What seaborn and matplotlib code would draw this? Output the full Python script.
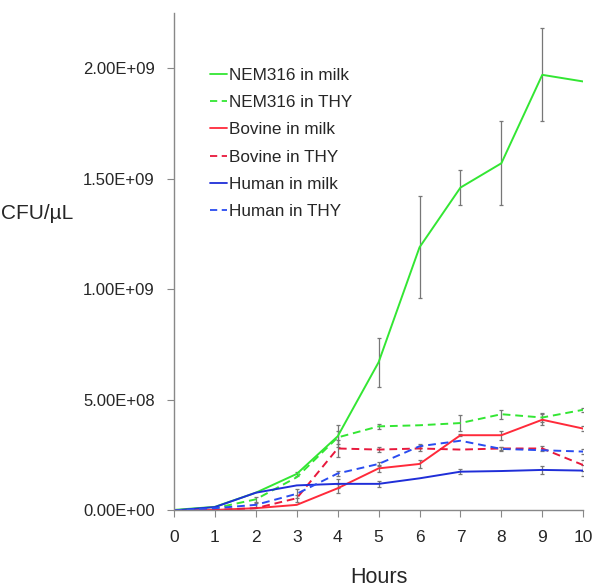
import numpy as np
import pandas as pd
import seaborn as sns
import matplotlib
matplotlib.use("Agg")
import matplotlib.pyplot as plt
from matplotlib.ticker import FuncFormatter

hours = list(range(11))
series_names = ["NEM316 in milk", "NEM316 in THY", "Bovine in milk",
                "Bovine in THY", "Human in milk", "Human in THY"]

# CFU/uL, in units of 1e9
nem_milk = [0.002, 0.016, 0.08, 0.165, 0.335, 0.67, 1.19, 1.46, 1.57, 1.97, 1.94]
nem_thy = [0.0, 0.01, 0.05, 0.15, 0.33, 0.38, 0.385, 0.395, 0.435, 0.42, 0.455]
bov_milk = [0.0, 0.002, 0.01, 0.025, 0.10, 0.19, 0.21, 0.34, 0.34, 0.41, 0.37]
bov_thy = [0.0, 0.002, 0.01, 0.055, 0.28, 0.275, 0.28, 0.275, 0.28, 0.28, 0.205]
hum_milk = [0.0, 0.015, 0.08, 0.113, 0.12, 0.12, 0.145, 0.175, 0.178, 0.183, 0.18]
hum_thy = [0.0, 0.01, 0.025, 0.075, 0.167, 0.21, 0.29, 0.315, 0.278, 0.272, 0.266]

# error bars (same units)
nem_milk_err = [0, 0, 0, 0.01, 0.05, 0.11, 0.23, 0.08, 0.19, 0.21, 0]
nem_thy_err = [0, 0, 0.01, 0, 0.03, 0.01, 0, 0.035, 0.02, 0.02, 0.01]
bov_milk_err = [0, 0, 0, 0, 0.02, 0.015, 0.02, 0.005, 0.02, 0.025, 0.01]
bov_thy_err = [0, 0, 0, 0.015, 0.04, 0.01, 0.01, 0, 0.005, 0.01, 0.025]
hum_milk_err = [0, 0, 0, 0, 0.02, 0.015, 0, 0.01, 0, 0.02, 0.025]
hum_thy_err = [0, 0, 0.01, 0.02, 0.01, 0.01, 0.01, 0, 0.01, 0, 0.01]

values = [nem_milk, nem_thy, bov_milk, bov_thy, hum_milk, hum_thy]
errors = [nem_milk_err, nem_thy_err, bov_milk_err, bov_thy_err, hum_milk_err, hum_thy_err]
colors = ["#33e633", "#33e633", "#ff2a3a", "#e8183c", "#1f2ed8", "#2a4cf0"]
dashed = [False, True, False, True, False, True]

rows = []
for name, vals, errs in zip(series_names, values, errors):
    for h, v, e in zip(hours, vals, errs):
        rows.append({"Hours": h, "CFU": v * 1e9, "err": e * 1e9, "series": name})
df = pd.DataFrame(rows)

sns.set_style("white")
plt.rcParams['font.family'] = ['Liberation Sans', 'DejaVu Sans']

fig = plt.figure(figsize=(6, 5.88), dpi=100)
ax = fig.add_axes([0.29, 0.132, 0.682, 0.846])

# error bars first, behind lines
for name, col in zip(series_names, colors):
    d = df[df["series"] == name]
    m = d["err"] > 0
    ax.errorbar(d["Hours"][m], d["CFU"][m], yerr=d["err"][m], fmt="none",
                ecolor="#777777", elinewidth=0.9, capsize=1.5, capthick=0.9, zorder=1)

sns.lineplot(data=df, x="Hours", y="CFU", hue="series", style="series",
             hue_order=series_names, style_order=series_names,
             palette=dict(zip(series_names, colors)),
             dashes={n: ((4, 2.5) if d else "") for n, d in zip(series_names, dashed)},
             linewidth=1.4, errorbar=None, ax=ax, zorder=2)

ax.set_xlim(0, 10)
ax.set_ylim(0, 2.25e9)
ax.set_xticks(hours)
ax.set_yticks([0, 0.5e9, 1.0e9, 1.5e9, 2.0e9])
ax.yaxis.set_major_formatter(FuncFormatter(lambda v, p: f"{v:.2E}"))
ax.tick_params(axis="y", labelsize=12, length=5, width=0.8, color="#888888", pad=9, left=True)
ax.tick_params(axis="x", labelsize=12.5, length=5, width=0.8, color="#888888", pad=9, bottom=True)

sns.despine(ax=ax)
for s in ["left", "bottom"]:
    ax.spines[s].set_color("#888888")
    ax.spines[s].set_linewidth(1.0)

ax.set_xlabel("Hours", fontsize=15.5, labelpad=16)
ax.set_ylabel("")
fig.text(0.002, 0.637, "CFU/\u00b5L", fontsize=15, ha="left", va="center")

leg = ax.legend(loc="upper left", bbox_to_anchor=(0.088, 0.89), frameon=False,
                fontsize=12.3, handlelength=1.0, handletextpad=0.1,
                labelspacing=0.72, borderpad=0, borderaxespad=0)
for line in leg.get_lines():
    line.set_linewidth(1.3)

fig.savefig("out.png", dpi=100)
